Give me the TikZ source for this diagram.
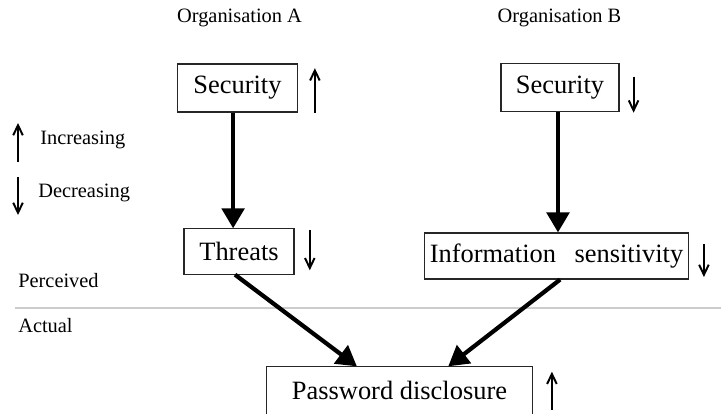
\documentclass[tikz,border=0pt]{standalone}
\usepackage{fontspec}
\setmainfont{Liberation Serif}
\usepackage{tikz}
\usetikzlibrary{positioning, arrows.meta, calc}

\begin{document}
\begin{tikzpicture}[
    x=0.025cm, y=-0.025cm, % one unit = one pixel of the sketch
    box/.style={
        rectangle,
        draw=black!85,
        line width=0.8pt,
        inner sep=0pt,
        minimum height=1.15cm,
        font=\fontsize{18.8}{22}\selectfont
    },
    label/.style={
        inner sep=0pt,
        font=\fontsize{14.5}{17}\selectfont
    },
    flow/.style={
        -{Triangle[length=0.5cm, width=0.56cm]},
        line width=3pt,
        color=black
    },
    trend/.style={
        -{Straight Barb[length=0.25cm, width=0.24cm]},
        line width=1.4pt,
        color=black
    }
]
\useasboundingbox (0,0) rectangle (721,413);

% Column headings
\node[label] (orgA) at (239.5,18) {Organisation A};
\node[label] (orgB) at (559.5,18) {Organisation B};

% Legend
\node[label, anchor=west] (inc) at (40,140) {Increasing};
\node[label, anchor=west] (dec) at (38,193) {Decreasing};
\draw[trend] (18,162) -- (18,123);
\draw[trend] (18,177) -- (18,215);

% Perceived / actual split
\node[label, anchor=west] (perc) at (18,281) {Perceived};
\node[label, anchor=west] (act) at (18,326) {Actual};
\coordinate (splitL) at (15,308);
\coordinate (splitR) at (721,308);
\draw[gray!40, line width=1pt] (splitL) -- (splitR);

% Boxes
\node[box, minimum width=2.98cm, minimum height=1.2cm] (secA) at (237.5,88) {Security};
\node[box, minimum width=2.95cm, minimum height=1.18cm] (secB) at (560,87.5) {Security};
\node[box, minimum width=2.75cm, minimum height=1.13cm] (thr) at (239,251.5) {Threats};
\node[box, minimum width=6.58cm] (info) at (556.5,256) {Information\hspace{0.45em} sensitivity};
\node[box, minimum width=6.63cm, minimum height=1.18cm] (pd) at (399.5,390.5) {Password disclosure};

% Trend marks beside the boxes
\draw[trend] ([xshift=0.43cm, yshift=-0.63cm]secA.east) -- ++(0,-45);
\draw[trend] ([xshift=0.35cm, yshift=0.27cm]secB.east) -- ++(0,36);
\draw[trend] ([xshift=0.38cm, yshift=0.53cm]thr.east) -- ++(0,40);
\draw[trend] ([xshift=0.38cm, yshift=0.3cm]info.east) -- ++(0,33);
\draw[trend] ([xshift=0.48cm, yshift=-0.48cm]pd.east) -- ++(0,-38);

% Arrows
\draw[flow] ([xshift=-0.11cm]secA.south) -- ([xshift=-0.11cm]secA.south |- thr.north);
\draw[flow] ([xshift=-0.05cm]secB.south) -- ([xshift=-0.05cm]secB.south |- info.north);
\draw[flow] ([xshift=-0.1cm]thr.south) -- ($(pd.north west)!0.34!(pd.north east)$);
\draw[flow] ([xshift=0.09cm]info.south) -- ($(pd.north west)!0.683!(pd.north east)$);

\end{tikzpicture}
\end{document}
